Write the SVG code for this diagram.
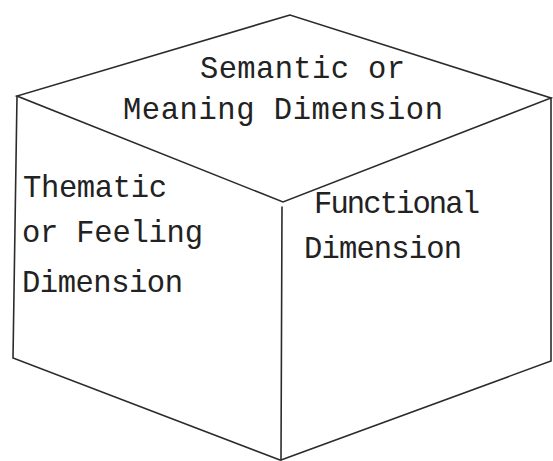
<svg xmlns="http://www.w3.org/2000/svg" width="553" height="461" viewBox="0 0 553 461">
<style>
.edge{fill:none;stroke:#2b2b2b;stroke-width:1.6;stroke-linejoin:miter;stroke-linecap:round}
.lbl{font-family:"Liberation Mono","Courier New",monospace;font-size:30.5px;fill:#222}
</style>
<rect width="553" height="461" fill="#ffffff"/>
<g id="connectors">
<polygon class="edge" points="290,15 17,96 283,202 551,98"/>
<polyline class="edge" points="17,96 13,358 280,460"/>
<polyline class="edge" points="551,98 551,361 281,460"/>
<line class="edge" x1="282" y1="207" x2="281" y2="460"/>
</g>
<g id="top-face">
<text class="lbl" x="200" y="78" textLength="205" lengthAdjust="spacing">Semantic or</text>
<text class="lbl" x="123" y="119" textLength="320" lengthAdjust="spacing">Meaning Dimension</text>
</g>
<g id="left-face">
<text class="lbl" x="23" y="197" textLength="144" lengthAdjust="spacing">Thematic</text>
<text class="lbl" x="22" y="242" textLength="181" lengthAdjust="spacing">or Feeling</text>
<text class="lbl" x="22" y="292" textLength="161" lengthAdjust="spacing">Dimension</text>
</g>
<g id="right-face">
<text class="lbl" x="314" y="213" textLength="166" lengthAdjust="spacing">Functional</text>
<text class="lbl" x="304" y="258" textLength="158" lengthAdjust="spacing">Dimension</text>
</g>
</svg>
